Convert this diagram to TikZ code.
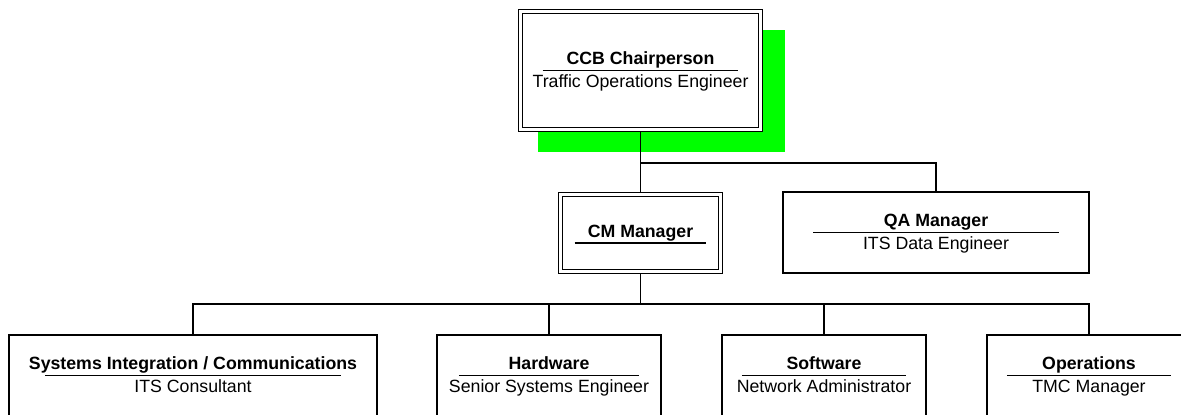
\documentclass[tikz,border=0pt]{standalone}
\usepackage{fontspec}
\setmainfont{Liberation Sans}
\usetikzlibrary{calc,shadows}

% one role: title, rule under it (80% of the box), person below
\newcommand{\roletext}[4]{% #1 box, #2 title, #3 person, #4 rule offset
  \node[roletitle] (#1-t) at ($(#1.center)+(0,#4-6)$) {#2};
  \draw[rule] ($(#1.west)!0.1!(#1.east)+(0,#4)$) -- ($(#1.east)!0.1!(#1.west)+(0,#4)$);
  \node[roleperson] (#1-p) at ($(#1.center)+(0,#4+17)$) {#3};
}

\begin{document}
\begin{tikzpicture}[
  x=0.75pt, y=-0.75pt,
  unit/.style={draw, fill=white, line width=1pt, inner sep=0pt},
  dbl/.style={draw, fill=white, line width=0.9pt, double=white,
    double distance=1.8pt, inner sep=0pt, outer sep=1.8pt},
  roletitle/.style={anchor=base, inner sep=0pt, font=\fontsize{13.3}{16}\selectfont\bfseries},
  roleperson/.style={anchor=base, inner sep=0pt, font=\fontsize{13.3}{16}\selectfont},
  rule/.style={line width=0.8pt},
  link/.style={line width=1pt}
]
\def\px{0.75pt}

\path[use as bounding box, clip] (0,0) rectangle (1181,414);

% --- board
\node[dbl, minimum width=240*\px, minimum height=118*\px,
  general shadow={fill={rgb,255:red,0;green,255;blue,0}, shadow xshift=15pt,
    shadow yshift=-15pt, shadow scale=1.03}]
  (ccb) at (640.5,70.5) {};
\roletext{ccb}{CCB Chairperson}{Traffic Operations Engineer}{0}

% --- managers
\node[dbl, minimum width=160*\px, minimum height=77*\px] (cm) at (640.5,233) {};
\roletext{cm}{CM Manager}{}{10}

\node[unit, minimum width=306*\px, minimum height=81*\px] (qa) at (936,232.5) {};
\roletext{qa}{QA Manager}{ITS Data Engineer}{0}

% --- configuration items
\node[unit, minimum width=368*\px, minimum height=81*\px] (sys) at (193,375.5) {};
\roletext{sys}{Systems Integration / Communications}{ITS Consultant}{0}

\node[unit, minimum width=224*\px, minimum height=81*\px] (hw) at (549,375.5) {};
\roletext{hw}{Hardware}{Senior Systems Engineer}{0}

\node[unit, minimum width=204*\px, minimum height=81*\px] (sw) at (824,375.5) {};
\roletext{sw}{Software}{Network Administrator}{0}

\node[unit, minimum width=204*\px, minimum height=81*\px] (ops) at (1089,375.5) {};
\roletext{ops}{Operations}{TMC Manager}{0}

% --- connectors
\coordinate (bus1) at (640.5,163);
\coordinate (bus2) at (640.5,304);
\draw[link] (ccb.south) -- (bus1) -| (qa.north);
\draw[link] (bus1) -- (cm.north);
\draw[link] (cm.south) -- (bus2);
\foreach \n in {sys,hw,sw,ops}
  \draw[link] (bus2) -| (\n.north);

\end{tikzpicture}
\end{document}
